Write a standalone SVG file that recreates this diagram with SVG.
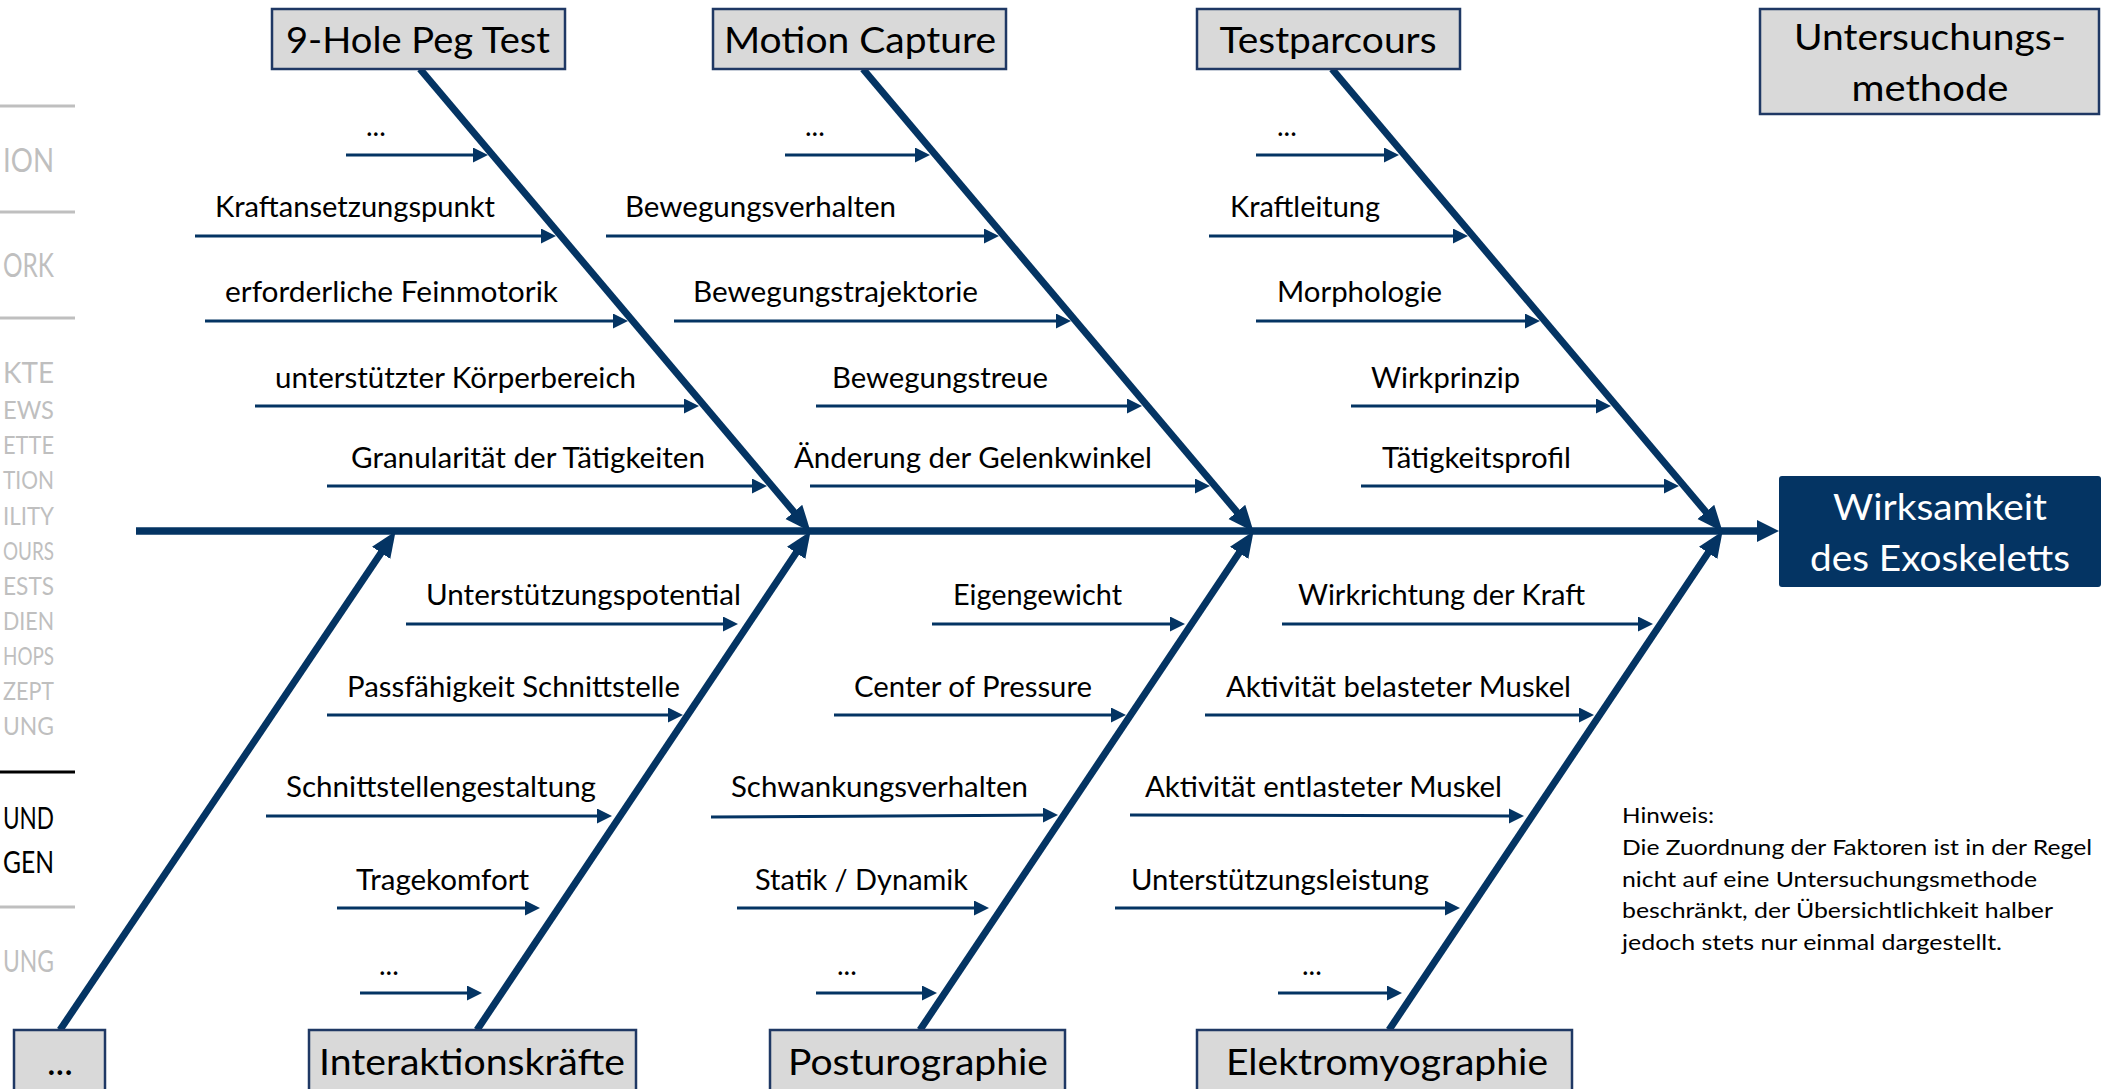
<svg xmlns="http://www.w3.org/2000/svg" width="2115" height="1089" viewBox="0 0 2115 1089">
<style>
text{font-family:Lato,"Open Sans","Liberation Sans",sans-serif;}
.lbl{font-size:28px;fill:#000;}
.ttl{font-size:37px;fill:#000;text-anchor:middle;}
.wt{font-size:37px;fill:#fff;text-anchor:middle;}
.note{font-size:21px;fill:#000;}
.nav{fill:#bfbfbf;}
.navb{fill:#000;}
.box{fill:#d9d9d9;stroke:#1f3864;stroke-width:2.5;}
.eff{fill:#043463;}
.bone{stroke:#043463;stroke-width:7;fill:none;}
.spine{stroke:#043463;stroke-width:7.5;fill:none;}
.sub{stroke:#043463;stroke-width:3;fill:none;}
.gl{stroke:#bfbfbf;stroke-width:3;}
.bl{stroke:#000;stroke-width:3;}
</style>
<defs>
<marker id="sa" markerUnits="userSpaceOnUse" markerWidth="16" markerHeight="16" refX="8" refY="7.5" orient="auto">
<path d="M0,0 L15,7.5 L0,15 z" fill="#043463"/>
</marker>
<marker id="ba" markerUnits="userSpaceOnUse" markerWidth="28" markerHeight="24" refX="10" refY="11" orient="auto">
<path d="M0,0 L26,11 L0,22 z" fill="#043463"/>
</marker>
<marker id="pa" markerUnits="userSpaceOnUse" markerWidth="24" markerHeight="24" refX="8" refY="11" orient="auto">
<path d="M0,0 L22,11 L0,22 z" fill="#043463"/>
</marker>
</defs>

<g id="nav">
<line class="gl" x1="0" y1="106" x2="75" y2="106"/>
<line class="gl" x1="0" y1="212" x2="75" y2="212"/>
<line class="gl" x1="0" y1="318" x2="75" y2="318"/>
<line class="bl" x1="0" y1="772" x2="75" y2="772"/>
<line class="gl" x1="0" y1="907" x2="75" y2="907"/>
<text class="nav" x="3" y="172" font-size="32" textLength="51" lengthAdjust="spacingAndGlyphs">ION</text>
<text class="nav" x="3" y="277" font-size="32" textLength="51" lengthAdjust="spacingAndGlyphs">ORK</text>
<text class="nav" x="3" y="383" font-size="29" textLength="51" lengthAdjust="spacingAndGlyphs">KTE</text>
<text class="nav" x="3" y="419" font-size="24.5" textLength="51" lengthAdjust="spacingAndGlyphs">EWS</text>
<text class="nav" x="3" y="454" font-size="24.5" textLength="51" lengthAdjust="spacingAndGlyphs">ETTE</text>
<text class="nav" x="3" y="489" font-size="24.5" textLength="51" lengthAdjust="spacingAndGlyphs">TION</text>
<text class="nav" x="3" y="525" font-size="24.5" textLength="51" lengthAdjust="spacingAndGlyphs">ILITY</text>
<text class="nav" x="3" y="560" font-size="24.5" textLength="51" lengthAdjust="spacingAndGlyphs">OURS</text>
<text class="nav" x="3" y="595" font-size="24.5" textLength="51" lengthAdjust="spacingAndGlyphs">ESTS</text>
<text class="nav" x="3" y="630" font-size="24.5" textLength="51" lengthAdjust="spacingAndGlyphs">DIEN</text>
<text class="nav" x="3" y="665" font-size="24.5" textLength="51" lengthAdjust="spacingAndGlyphs">HOPS</text>
<text class="nav" x="3" y="700" font-size="24.5" textLength="51" lengthAdjust="spacingAndGlyphs">ZEPT</text>
<text class="nav" x="3" y="735" font-size="24.5" textLength="51" lengthAdjust="spacingAndGlyphs">UNG</text>
<text class="navb" x="3" y="829" font-size="31" textLength="51" lengthAdjust="spacingAndGlyphs">UND</text>
<text class="navb" x="3" y="873" font-size="31" textLength="51" lengthAdjust="spacingAndGlyphs">GEN</text>
<text class="nav" x="3" y="972" font-size="31" textLength="51" lengthAdjust="spacingAndGlyphs">UNG</text>
</g>

<g id="connectors">
<line class="spine" x1="136" y1="531" x2="1765" y2="531" marker-end="url(#pa)"/>
<line class="bone" x1="420" y1="69" x2="800.3" y2="519.5" marker-end="url(#ba)"/>
<line class="bone" x1="863" y1="69" x2="1243.3" y2="519.5" marker-end="url(#ba)"/>
<line class="bone" x1="1332" y1="69" x2="1712.3" y2="519.5" marker-end="url(#ba)"/>
<line class="bone" x1="60" y1="1030" x2="386.7" y2="544.5" marker-end="url(#ba)"/>
<line class="bone" x1="477" y1="1030" x2="801.7" y2="544.5" marker-end="url(#ba)"/>
<line class="bone" x1="920" y1="1030" x2="1244.7" y2="544.5" marker-end="url(#ba)"/>
<line class="bone" x1="1389" y1="1030" x2="1713.7" y2="544.5" marker-end="url(#ba)"/>

<line class="sub" x1="346" y1="155" x2="481" y2="155" marker-end="url(#sa)"/>
<line class="sub" x1="195" y1="236" x2="549" y2="236" marker-end="url(#sa)"/>
<line class="sub" x1="205" y1="321" x2="621" y2="321" marker-end="url(#sa)"/>
<line class="sub" x1="255" y1="406" x2="692" y2="406" marker-end="url(#sa)"/>
<line class="sub" x1="327" y1="486" x2="760" y2="486" marker-end="url(#sa)"/>

<line class="sub" x1="785" y1="155" x2="923" y2="155" marker-end="url(#sa)"/>
<line class="sub" x1="606" y1="236" x2="992" y2="236" marker-end="url(#sa)"/>
<line class="sub" x1="674" y1="321" x2="1064" y2="321" marker-end="url(#sa)"/>
<line class="sub" x1="816" y1="406" x2="1135" y2="406" marker-end="url(#sa)"/>
<line class="sub" x1="810" y1="486" x2="1203" y2="486" marker-end="url(#sa)"/>

<line class="sub" x1="1256" y1="155" x2="1392" y2="155" marker-end="url(#sa)"/>
<line class="sub" x1="1209" y1="236" x2="1461" y2="236" marker-end="url(#sa)"/>
<line class="sub" x1="1256" y1="321" x2="1533" y2="321" marker-end="url(#sa)"/>
<line class="sub" x1="1351" y1="406" x2="1604" y2="406" marker-end="url(#sa)"/>
<line class="sub" x1="1361" y1="486" x2="1672" y2="486" marker-end="url(#sa)"/>

<line class="sub" x1="406" y1="624" x2="731" y2="624" marker-end="url(#sa)"/>
<line class="sub" x1="327" y1="715" x2="676" y2="715" marker-end="url(#sa)"/>
<line class="sub" x1="266" y1="816" x2="605" y2="816" marker-end="url(#sa)"/>
<line class="sub" x1="337" y1="908" x2="533" y2="908" marker-end="url(#sa)"/>
<line class="sub" x1="360" y1="993" x2="475" y2="993" marker-end="url(#sa)"/>

<line class="sub" x1="932" y1="624" x2="1178" y2="624" marker-end="url(#sa)"/>
<line class="sub" x1="834" y1="715" x2="1119" y2="715" marker-end="url(#sa)"/>
<line class="sub" x1="711" y1="817" x2="1051" y2="815" marker-end="url(#sa)"/>
<line class="sub" x1="737" y1="908" x2="982" y2="908" marker-end="url(#sa)"/>
<line class="sub" x1="816" y1="993" x2="930" y2="993" marker-end="url(#sa)"/>

<line class="sub" x1="1282" y1="624" x2="1646" y2="624" marker-end="url(#sa)"/>
<line class="sub" x1="1205" y1="715" x2="1587" y2="715" marker-end="url(#sa)"/>
<line class="sub" x1="1130" y1="815" x2="1517" y2="816" marker-end="url(#sa)"/>
<line class="sub" x1="1115" y1="908" x2="1453" y2="908" marker-end="url(#sa)"/>
<line class="sub" x1="1278" y1="993" x2="1395" y2="993" marker-end="url(#sa)"/>
</g>

<g id="labels">
<text class="lbl" x="366" y="136">...</text>
<text class="lbl" x="215" y="217" textLength="280" lengthAdjust="spacingAndGlyphs">Kraftansetzungspunkt</text>
<text class="lbl" x="225" y="302" textLength="333" lengthAdjust="spacingAndGlyphs">erforderliche Feinmotorik</text>
<text class="lbl" x="275" y="388" textLength="361" lengthAdjust="spacingAndGlyphs">unterstützter Körperbereich</text>
<text class="lbl" x="351" y="468" textLength="354" lengthAdjust="spacingAndGlyphs">Granularität der Tätigkeiten</text>

<text class="lbl" x="805" y="136">...</text>
<text class="lbl" x="625" y="217" textLength="271" lengthAdjust="spacingAndGlyphs">Bewegungsverhalten</text>
<text class="lbl" x="693" y="302" textLength="285" lengthAdjust="spacingAndGlyphs">Bewegungstrajektorie</text>
<text class="lbl" x="832" y="388" textLength="216" lengthAdjust="spacingAndGlyphs">Bewegungstreue</text>
<text class="lbl" x="794" y="468" textLength="358" lengthAdjust="spacingAndGlyphs">Änderung der Gelenkwinkel</text>

<text class="lbl" x="1277" y="136">...</text>
<text class="lbl" x="1230" y="217" textLength="150" lengthAdjust="spacingAndGlyphs">Kraftleitung</text>
<text class="lbl" x="1277" y="302" textLength="165" lengthAdjust="spacingAndGlyphs">Morphologie</text>
<text class="lbl" x="1371" y="388" textLength="149" lengthAdjust="spacingAndGlyphs">Wirkprinzip</text>
<text class="lbl" x="1382" y="468" textLength="189" lengthAdjust="spacingAndGlyphs">Tätigkeitsprofil</text>

<text class="lbl" x="426" y="605" textLength="315" lengthAdjust="spacingAndGlyphs">Unterstützungspotential</text>
<text class="lbl" x="347" y="697" textLength="333" lengthAdjust="spacingAndGlyphs">Passfähigkeit Schnittstelle</text>
<text class="lbl" x="286" y="797" textLength="310" lengthAdjust="spacingAndGlyphs">Schnittstellengestaltung</text>
<text class="lbl" x="356" y="890" textLength="173" lengthAdjust="spacingAndGlyphs">Tragekomfort</text>
<text class="lbl" x="379" y="975">...</text>

<text class="lbl" x="953" y="605" textLength="169" lengthAdjust="spacingAndGlyphs">Eigengewicht</text>
<text class="lbl" x="854" y="697" textLength="238" lengthAdjust="spacingAndGlyphs">Center of Pressure</text>
<text class="lbl" x="731" y="797" textLength="297" lengthAdjust="spacingAndGlyphs">Schwankungsverhalten</text>
<text class="lbl" x="755" y="890" textLength="213" lengthAdjust="spacingAndGlyphs">Statik / Dynamik</text>
<text class="lbl" x="837" y="975">...</text>

<text class="lbl" x="1298" y="605" textLength="287" lengthAdjust="spacingAndGlyphs">Wirkrichtung der Kraft</text>
<text class="lbl" x="1226" y="697" textLength="345" lengthAdjust="spacingAndGlyphs">Aktivität belasteter Muskel</text>
<text class="lbl" x="1145" y="797" textLength="357" lengthAdjust="spacingAndGlyphs">Aktivität entlasteter Muskel</text>
<text class="lbl" x="1131" y="890" textLength="298" lengthAdjust="spacingAndGlyphs">Unterstützungsleistung</text>
<text class="lbl" x="1302" y="975">...</text>
</g>

<g id="node-9hole">
<rect class="box" x="272" y="9" width="293" height="60"/>
<text class="ttl" x="418" y="53" textLength="264" lengthAdjust="spacingAndGlyphs">9-Hole Peg Test</text>
</g>
<g id="node-motion">
<rect class="box" x="713" y="9" width="293" height="60"/>
<text class="ttl" x="860" y="53" textLength="272" lengthAdjust="spacingAndGlyphs">Motion Capture</text>
</g>
<g id="node-testparcours">
<rect class="box" x="1197" y="9" width="263" height="60"/>
<text class="ttl" x="1328" y="53" textLength="217" lengthAdjust="spacingAndGlyphs">Testparcours</text>
</g>
<g id="node-legend">
<rect class="box" x="1760" y="9" width="339" height="105"/>
<text class="ttl" x="1930" y="50" textLength="272" lengthAdjust="spacingAndGlyphs">Untersuchungs-</text>
<text class="ttl" x="1930" y="101" textLength="157" lengthAdjust="spacingAndGlyphs">methode</text>
</g>
<g id="node-effect">
<rect class="eff" x="1779" y="476" width="322" height="111" rx="3"/>
<text class="wt" x="1940" y="520" textLength="214" lengthAdjust="spacingAndGlyphs">Wirksamkeit</text>
<text class="wt" x="1940" y="571" textLength="260" lengthAdjust="spacingAndGlyphs">des Exoskeletts</text>
</g>
<g id="node-more">
<rect class="box" x="14" y="1030" width="91" height="70"/>
<text class="ttl" x="60" y="1075">...</text>
</g>
<g id="node-interaktion">
<rect class="box" x="309" y="1030" width="327" height="70"/>
<text class="ttl" x="472" y="1075" textLength="306" lengthAdjust="spacingAndGlyphs">Interaktionskräfte</text>
</g>
<g id="node-posturographie">
<rect class="box" x="770" y="1030" width="295" height="70"/>
<text class="ttl" x="918" y="1075" textLength="260" lengthAdjust="spacingAndGlyphs">Posturographie</text>
</g>
<g id="node-emg">
<rect class="box" x="1197" y="1030" width="375" height="70"/>
<text class="ttl" x="1387" y="1075" textLength="322" lengthAdjust="spacingAndGlyphs">Elektromyographie</text>
</g>

<g id="note">
<text class="note" x="1622" y="823" textLength="92" lengthAdjust="spacingAndGlyphs">Hinweis:</text>
<text class="note" x="1622" y="855" textLength="470" lengthAdjust="spacingAndGlyphs">Die Zuordnung der Faktoren ist in der Regel</text>
<text class="note" x="1622" y="887" textLength="415" lengthAdjust="spacingAndGlyphs">nicht auf eine Untersuchungsmethode</text>
<text class="note" x="1622" y="918" textLength="431" lengthAdjust="spacingAndGlyphs">beschränkt, der Übersichtlichkeit halber</text>
<text class="note" x="1622" y="950" textLength="380" lengthAdjust="spacingAndGlyphs">jedoch stets nur einmal dargestellt.</text>
</g>
</svg>
